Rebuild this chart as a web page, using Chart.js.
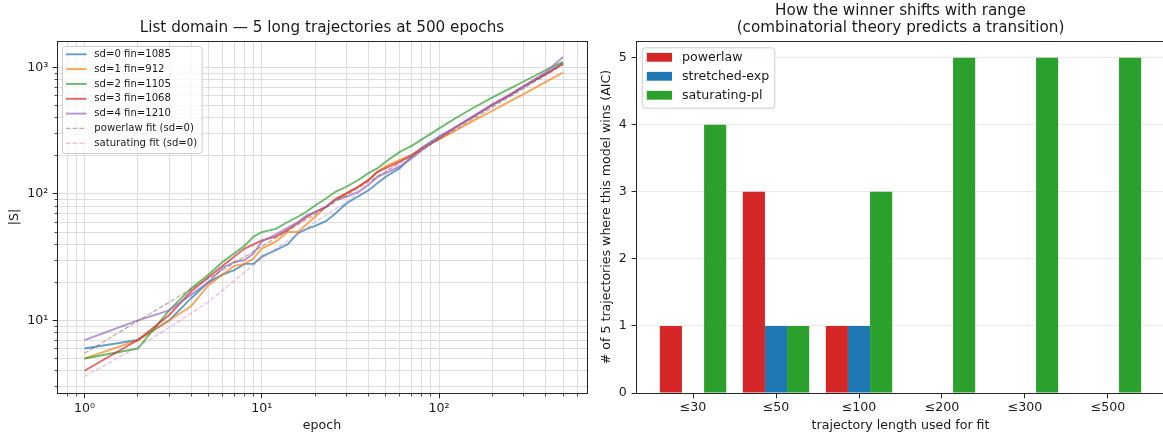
<!DOCTYPE html>
<html>
<head>
<meta charset="utf-8">
<script src="https://cdn.jsdelivr.net/npm/chart.js@4.4.1/dist/chart.umd.min.js"></script>
<style>
html, body { margin: 0; padding: 0; background: #ffffff; overflow: hidden; width: 1163px; height: 436px; }
#c1 { position: absolute; left: 0; top: 0; }
#c2 { position: absolute; left: 590px; top: 0; }
</style>
</head>
<body>
<canvas id="c1" width="590" height="436"></canvas>
<canvas id="c2" width="590" height="436"></canvas>
<script>
// ---------- data: left panel ----------
const epochs = [1,2,3,4,5,6,7,8,9,10,12,14,16,18,20,23,26,30,35,40,45,50,60,70,80,100,125,150,200,250,300,400,500];
const sd0 = [6,7,10,15,20,23,25,28,28,32,36,40,49,53,56,61,70,84,96,107,122,137,160,197,233,284,340,398,510,605,705,890,1085];
const sd1 = [5,7,10,13,19,23,27,28,31,37,42,50,50,58,66,79,92,101,114,129,150,165,186,203,229,270,320,368,455,540,615,770,912];
const sd2 = [5,6,12,18,23,29,34,39,46,50,53,60,66,73,81,92,104,114,129,146,160,180,215,240,270,330,400,465,580,680,775,955,1105];
const sd3 = [4,7,11,17,22,27,32,37,40,43,46,52,59,66,72,79,90,101,114,129,150,160,180,203,229,275,340,395,505,605,710,890,1068];
const sd4 = [7,10,12,16,20,26,29,30,34,42,48,54,60,68,72,79,90,95,104,118,137,146,165,191,222,280,340,395,508,605,712,920,1210];
const seriesLabels = ['sd=0 fin=1085','sd=1 fin=912','sd=2 fin=1105','sd=3 fin=1068','sd=4 fin=1210'];
const plFitEpochs = [1,10,100,500];
const plFit = [5.5,38.5,270,1050];
const satFitEpochs = [1,2,3,5,10,20,30,50,100,200,500];
const satFit = [3.6,6.2,8.8,14,31,60,86,150,280,520,1080];
const xTickVals = [0.8,0.9,1,2,3,4,5,6,7,8,9,10,20,30,40,50,60,70,80,90,100,200,300,400,500,600];
const yTickVals = [3,4,5,6,7,8,9,10,20,30,40,50,60,70,80,90,100,200,300,400,500,600,700,800,900,1000];
const decadeLabels = {1:'10\u2070', 10:'10\u00B9', 100:'10\u00B2', 1000:'10\u00B3'};

// ---------- data: right panel ----------
const rangeLabels = ['\u226430','\u226450','\u2264100','\u2264200','\u2264300','\u2264500'];
const powerlawWins = [1,3,1,0,0,0];
const stretchedWins = [0,1,1,0,0,0];
const saturatingWins = [4,1,3,5,5,5];
const winTicks = [0,1,2,3,4,5];

Chart.defaults.font.family = "'DejaVu Sans', sans-serif";
Chart.defaults.color = '#1a1a1a';

const TXT = '#1a1a1a';
const pairs = (xs, ys) => xs.map((x, i) => ({x: x, y: ys[i]}));
const isDecade = v => Math.abs(Math.log10(v) - Math.round(Math.log10(v))) < 1e-9;
const alignPx = p => Math.round(p - 0.5) + 0.5;

function makeFrame(isMajorX, isMajorY) {
  return {
    id: 'mplFrame',
    afterDatasetsDraw(chart) {
      const ctx = chart.ctx, a = chart.chartArea;
      const xs = chart.scales.x, ys = chart.scales.y;
      const L = Math.round(a.left), R = Math.round(a.right), T = Math.round(a.top), B = Math.round(a.bottom);
      ctx.save();
      ctx.strokeStyle = '#262626';
      xs.ticks.forEach(t => {
        const p = alignPx(xs.getPixelForValue(t.value));
        const maj = isMajorX(t.value);
        ctx.lineWidth = maj ? 1 : 0.8;
        ctx.beginPath(); ctx.moveTo(p, B + 1); ctx.lineTo(p, B + 1 + (maj ? 4.4 : 2.5)); ctx.stroke();
      });
      ys.ticks.forEach(t => {
        const p = alignPx(ys.getPixelForValue(t.value));
        const maj = isMajorY(t.value);
        ctx.lineWidth = maj ? 1 : 0.8;
        ctx.beginPath(); ctx.moveTo(L, p); ctx.lineTo(L - (maj ? 4.4 : 2.5), p); ctx.stroke();
      });
      ctx.lineWidth = 1;
      ctx.strokeRect(L + 0.5, T + 0.5, R - L, B - T);
      ctx.restore();
    }
  };
}

const mplLegend = {
  id: 'mplLegend',
  afterDatasetsDraw(chart, args, o) {
    if (!o || !o.kind) return;
    const ctx = chart.ctx;
    const ds = chart.data.datasets;
    ctx.save();
    ctx.font = o.fontSize + "px 'DejaVu Sans'";
    let maxW = 0;
    ds.forEach(d => { maxW = Math.max(maxW, ctx.measureText(d.label).width); });
    const right = o.textX + maxW + o.pad;
    ctx.beginPath();
    ctx.roundRect(o.left + 0.5, o.top + 0.5, right - o.left, o.bottom - o.top, o.radius);
    ctx.fillStyle = 'rgba(255,255,255,0.8)';
    ctx.fill();
    ctx.strokeStyle = '#cccccc';
    ctx.lineWidth = 1;
    ctx.stroke();
    ds.forEach((d, i) => {
      const y = o.firstY + i * o.step;
      if (o.kind === 'patch') {
        ctx.fillStyle = d.backgroundColor;
        ctx.fillRect(o.hx0, y - o.ph / 2, o.hx1 - o.hx0, o.ph);
      } else {
        ctx.strokeStyle = d.borderColor;
        ctx.lineWidth = d.borderWidth;
        ctx.setLineDash(d.borderDash || []);
        ctx.beginPath(); ctx.moveTo(o.hx0, y); ctx.lineTo(o.hx1, y); ctx.stroke();
        ctx.setLineDash([]);
      }
      ctx.fillStyle = TXT;
      ctx.textBaseline = 'middle';
      ctx.textAlign = 'left';
      ctx.fillText(d.label, o.textX, y);
    });
    ctx.restore();
  }
};

const lineColors = ['rgba(31,119,180,0.7)','rgba(255,127,14,0.7)','rgba(44,160,44,0.7)','rgba(214,39,40,0.7)','rgba(148,103,189,0.7)'];
const trajs = [sd0, sd1, sd2, sd3, sd4];
const leftDatasets = trajs.map((s, i) => ({
  label: seriesLabels[i], data: pairs(epochs, s), borderColor: lineColors[i],
  borderWidth: 1.9, pointRadius: 0, tension: 0, fill: false, order: 7 - i
}));
leftDatasets.push({label: 'powerlaw fit (sd=0)', data: pairs(plFitEpochs, plFit), borderColor: 'rgba(140,86,75,0.5)',
  borderWidth: 1.26, borderDash: [4.7, 2], pointRadius: 0, tension: 0, fill: false, order: 2});
leftDatasets.push({label: 'saturating fit (sd=0)', data: pairs(satFitEpochs, satFit), borderColor: 'rgba(227,119,194,0.5)',
  borderWidth: 1.26, borderDash: [4.7, 2], pointRadius: 0, tension: 0, fill: false, order: 1});

new Chart(document.getElementById('c1'), {
  type: 'line',
  data: { datasets: leftDatasets },
  options: {
    responsive: false, animation: false, events: [],
    layout: { padding: { left: 0, right: 3, top: 0, bottom: 0 } },
    plugins: {
      legend: { display: false }, tooltip: { enabled: false },
      title: { display: true, text: 'List domain \u2014 5 long trajectories at 500 epochs', fullSize: false,
        color: TXT, font: { size: 15.2, weight: 'normal', lineHeight: 1.2 }, padding: { top: 18.9, bottom: 3.86 } },
      mplLegend: { kind: 'line', fontSize: 10.1, left: 62, top: 46, bottom: 153, pad: 4.5, radius: 3,
        firstY: 54.3, step: 14.83, hx0: 66, hx1: 86.5, textX: 94.3 }
    },
    scales: {
      x: {
        type: 'logarithmic', min: 0.7327, max: 682.4,
        afterBuildTicks: s => { s.ticks = xTickVals.map(v => ({ value: v })); },
        afterFit: s => { s.height = 43; },
        ticks: { autoSkip: false, maxRotation: 0, padding: 8.5, color: TXT, font: { size: 12.6 },
          callback: v => decadeLabels[v] || '' },
        grid: { color: '#dddddd', lineWidth: 1, drawTicks: false },
        border: { display: false },
        title: { display: true, text: 'epoch', color: TXT, font: { size: 12.6 }, padding: { top: 0, bottom: 2.8 } }
      },
      y: {
        type: 'logarithmic', min: 2.67, max: 1619,
        afterBuildTicks: s => { s.ticks = yTickVals.map(v => ({ value: v })); },
        afterFit: s => { s.width = 57; },
        ticks: { autoSkip: false, padding: 8.8, color: TXT, font: { size: 12.6 },
          callback: v => decadeLabels[v] || '' },
        grid: { color: '#dddddd', lineWidth: 1, drawTicks: false },
        border: { display: false },
        title: { display: true, text: '|S|', color: TXT, font: { size: 12.6 }, padding: { top: 6.9, bottom: 0 } }
      }
    }
  },
  plugins: [mplLegend, makeFrame(isDecade, isDecade)]
});

const barSets = [
  ['powerlaw', powerlawWins, '#d62728'],
  ['stretched-exp', stretchedWins, '#1f77b4'],
  ['saturating-pl', saturatingWins, '#2ca02c']
].map(([lab, vals, col]) => ({
  label: lab, data: vals.map((v, i) => ({ x: i, y: v })), backgroundColor: col,
  borderWidth: 0, categoryPercentage: 0.8, barPercentage: 1.0
}));

new Chart(document.getElementById('c2'), {
  type: 'bar',
  data: { datasets: barSets },
  options: {
    responsive: false, animation: false, events: [],
    layout: { padding: { left: 0, right: 14.5, top: 0, bottom: 0 } },
    plugins: {
      legend: { display: false }, tooltip: { enabled: false },
      title: { display: true, text: ['How the winner shifts with range', '(combinatorial theory predicts a transition)'],
        fullSize: false, color: TXT, font: { size: 15.2, weight: 'normal', lineHeight: 1.12 }, padding: { top: 2.8, bottom: 4.15 } },
      mplLegend: { kind: 'patch', fontSize: 12.6, left: 51.8, top: 47.3, bottom: 107.7, pad: 5, radius: 3,
        firstY: 57.3, step: 19, hx0: 56.8, hx1: 82, ph: 8.8, textX: 92 }
    },
    scales: {
      x: {
        type: 'linear', offset: false, min: -0.6933, max: 5.6933,
        afterBuildTicks: s => { s.ticks = rangeLabels.map((_, i) => ({ value: i })); },
        afterFit: s => { s.height = 43; },
        ticks: { autoSkip: false, maxRotation: 0, padding: 7.6, color: TXT, font: { size: 12.6 },
          callback: v => rangeLabels[v] !== undefined ? rangeLabels[v] : '' },
        grid: { display: false, drawTicks: false, offset: false },
        border: { display: false },
        title: { display: true, text: 'trajectory length used for fit', color: TXT, font: { size: 12.6 }, padding: { top: 0, bottom: 2.8 } }
      },
      y: {
        type: 'linear', min: 0, max: 5.25,
        afterBuildTicks: s => { s.ticks = winTicks.map(v => ({ value: v })); },
        afterFit: s => { s.width = 45.5; },
        ticks: { autoSkip: false, padding: 8.8, color: TXT, font: { size: 12.6 }, callback: v => String(v) },
        grid: { color: '#ebebeb', lineWidth: 1, drawTicks: false },
        border: { display: false },
        title: { display: true, text: '# of 5 trajectories where this model wins (AIC)', color: TXT,
          font: { size: 12.6 }, padding: { top: 8.8, bottom: 0 } }
      }
    }
  },
  plugins: [mplLegend, makeFrame(() => true, () => true)]
});
</script>
</body>
</html>
